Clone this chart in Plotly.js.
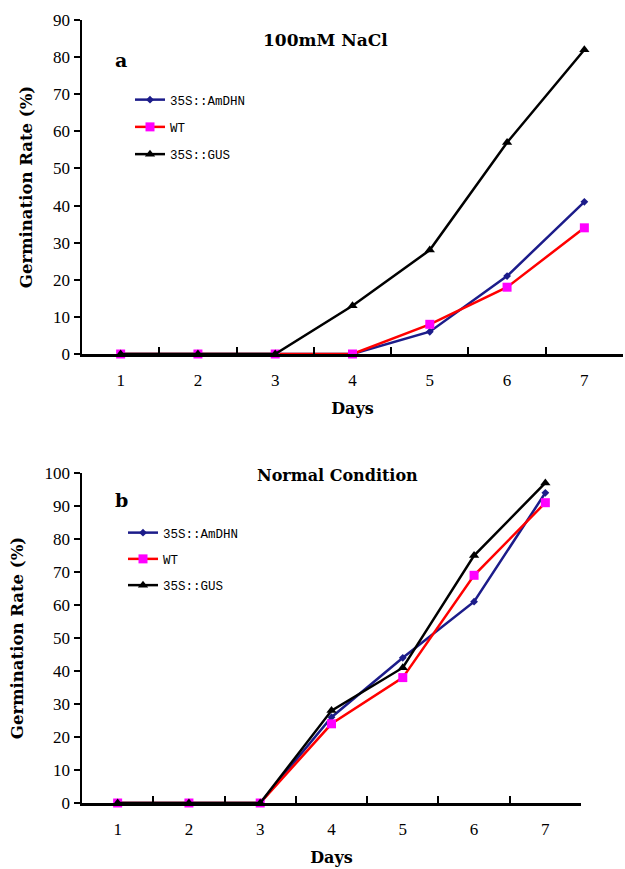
<!DOCTYPE html>
<html><head><meta charset="utf-8">
<script src="https://cdn.plot.ly/plotly-3.0.1.min.js"></script>
<style>body{margin:0;background:#fff}#chart{width:625px;height:869px}</style>
</head><body><div id="chart"></div>
<script>
const days = ['1','2','3','4','5','6','7'];
const seriesNames = ['35S::AmDHN','WT','35S::GUS'];
// Panel a: 100mM NaCl
const saltAmDHN = [0,0,0,0,6,21,41];
const saltWT    = [0,0,0,0,8,18,34];
const saltGUS   = [0,0,0,13,28,57,82];
// Panel b: Normal condition
const normAmDHN = [0,0,0,26,44,61,94];
const normWT    = [0,0,0,24,38,69,91];
const normGUS   = [0,0,0,28,41,75,97];
const yTicksA = [0,10,20,30,40,50,60,70,80,90];
const yTicksB = [0,10,20,30,40,50,60,70,80,90,100];

const styles = [
  {line:{color:'#1c1c8a',width:2.5}, marker:{symbol:'diamond',size:6,color:'#1c1c8a'}},
  {line:{color:'#ff0000',width:2.5}, marker:{symbol:'square',size:9,color:'#ff00ff'}},
  {line:{color:'#000000',width:2.5}, marker:{symbol:'triangle-up',size:9,color:'#000000'}}
];
function mk(y, i, xa, ya, leg){
  return Object.assign({type:'scatter',mode:'lines+markers',x:days,y:y,name:seriesNames[i],
    xaxis:xa,yaxis:ya,legend:leg,legendgroup:leg+i,cliponaxis:false}, JSON.parse(JSON.stringify(styles[i])));
}
const data = [
  mk(saltAmDHN,0,'x','y','legend'), mk(saltWT,1,'x','y','legend'), mk(saltGUS,2,'x','y','legend'),
  mk(normAmDHN,0,'x2','y2','legend2'), mk(normWT,1,'x2','y2','legend2'), mk(normGUS,2,'x2','y2','legend2')
];
const H=869, W=625;
const SERIF = 'DejaVu Serif, serif';
const tickFont = {family:'Liberation Serif, serif', size:17, color:'#000'};
const titleFont = {family:SERIF, size:16, color:'#000'};
function xax(d0,d1,anchor){
  return {type:'category',domain:[d0/W,d1/W],anchor:anchor,range:[-0.5,6.5],tickson:'boundaries',
    ticks:'inside',ticklen:7,tickwidth:2,tickcolor:'#000',showline:true,linecolor:'#000',linewidth:2.5,
    showgrid:false,zeroline:false,tickfont:tickFont,ticklabelstandoff:9,
    title:{text:'<b>Days</b>',font:titleFont,standoff:14}};
}
function yax(top,bot,anchor,rng,tv){
  return {domain:[(H-bot)/H,(H-top)/H],anchor:anchor,range:rng,tickvals:tv,ticks:'outside',ticklen:6,tickwidth:2,
    tickcolor:'#000',showline:true,linecolor:'#000',linewidth:2.5,showgrid:false,zeroline:false,tickfont:tickFont,
    title:{text:'<b>Germination Rate (%)</b>',font:{family:SERIF,size:16.5,color:'#000'},standoff:17}};
}
const legFont = {family:'Liberation Mono, monospace', size:12.5, color:'#000'};
const layout = {
  width:W,height:H,margin:{l:0,r:0,t:0,b:0},paper_bgcolor:'#fff',plot_bgcolor:'#fff',showlegend:true,
  xaxis:xax(82,623,'y'), yaxis:yax(20,354,'x',[0,90],yTicksA),
  xaxis2:xax(82,581,'y2'), yaxis2:yax(473,803,'x2',[0,100],yTicksB),
  legend:{x:130/W,y:(H-85)/H,xanchor:'left',yanchor:'top',font:legFont,bgcolor:'rgba(0,0,0,0)',
    traceorder:'grouped',tracegroupgap:8,itemwidth:30},
  legend2:{x:123/W,y:(H-518)/H,xanchor:'left',yanchor:'top',font:legFont,bgcolor:'rgba(0,0,0,0)',
    traceorder:'grouped',tracegroupgap:7,itemwidth:30},
  annotations:[
    {text:'<b>100mM NaCl</b>',xref:'paper',yref:'paper',x:325/W,y:(H-28)/H,showarrow:false,
      font:{family:SERIF,size:17,color:'#000'}},
    {text:'<b>a</b>',xref:'paper',yref:'paper',x:113/W,y:(H-47)/H,showarrow:false,
      font:{family:SERIF,size:19,color:'#000'}},
    {text:'<b>Normal Condition</b>',xref:'paper',yref:'paper',x:337/W,y:(H-475)/H,showarrow:false,
      font:{family:SERIF,size:16,color:'#000'}},
    {text:'<b>b</b>',xref:'paper',yref:'paper',x:113/W,y:(H-500)/H,showarrow:false,
      font:{family:SERIF,size:19,color:'#000'}}
  ]
};
Plotly.newPlot('chart',data,layout,{staticPlot:true});
</script></body></html>
